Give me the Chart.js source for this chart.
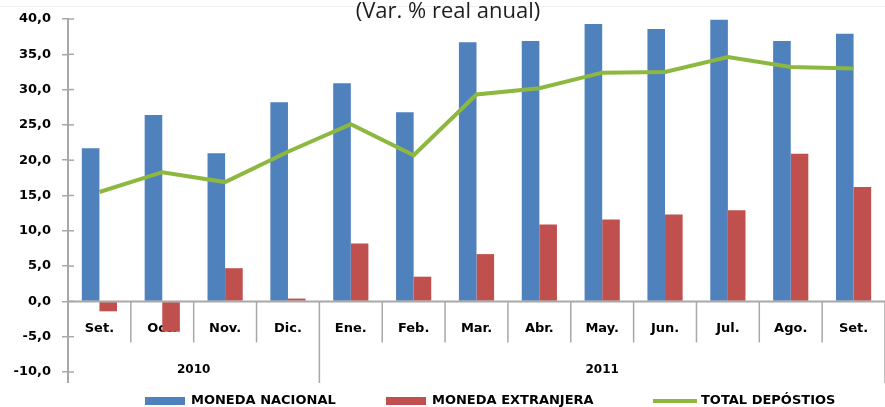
<!DOCTYPE html>
<html><head><meta charset="utf-8">
<script src="https://cdn.jsdelivr.net/npm/chart.js@4/dist/chart.umd.min.js"></script>
<style>html,body{margin:0;padding:0;background:#fff;overflow:hidden}#wrap{width:885px;height:407px;position:relative}</style>
</head><body><div id="wrap"><canvas id="c" width="885" height="407"></canvas></div>
<script>
const categories = ['Set.','Oct.','Nov.','Dic.','Ene.','Feb.','Mar.','Abr.','May.','Jun.','Jul.','Ago.','Set.'];
const yearLabels = ['2010','2011'];
const yearSpans = [4, 9];
const monedaNacional   = [21.7, 26.4, 21.0, 28.2, 30.9, 26.8, 36.7, 36.9, 39.3, 38.6, 39.9, 36.9, 37.9];
const monedaExtranjera = [-1.4, -4.3, 4.7, 0.4, 8.2, 3.5, 6.7, 10.9, 11.6, 12.3, 12.9, 20.9, 16.2];
const totalDepositos   = [15.5, 18.3, 16.9, 21.2, 25.1, 20.7, 29.3, 30.2, 32.4, 32.5, 34.6, 33.2, 33.0];
const seriesNames = ['MONEDA NACIONAL', 'MONEDA EXTRANJERA', 'TOTAL DEPÓSTIOS'];
const titleText = '(Var. % real anual)';
const yMin = -10, yMax = 40, yStep = 5;

const FONT = "'DejaVu Sans', sans-serif";
const AXIS = '#a8a8a8';
const BLUE = '#4F81BD', RED = '#C0504D', GREEN = '#8DB83F';

const overlay = {
  id: 'overlay',
  beforeDatasetsDraw(chart) {
    const {ctx, scales: {x, y}} = chart;
    const y0 = y.getPixelForValue(0);
    ctx.save();
    // faint top rule
    ctx.strokeStyle = '#eeeeee'; ctx.lineWidth = 1;
    ctx.beginPath(); ctx.moveTo(0, 6.5); ctx.lineTo(885, 6.5); ctx.stroke();
    // month labels (under the bars, as in the original)
    ctx.fillStyle = '#000';
    ctx.font = "bold 13px " + FONT;
    ctx.textAlign = 'center'; ctx.textBaseline = 'middle';
    categories.forEach((c, i) => ctx.fillText(c, x.getPixelForValue(i), y0 + 27));
    ctx.restore();
  },
  afterDraw(chart) {
    const {ctx, chartArea: a, scales: {x, y}} = chart;
    const y0 = y.getPixelForValue(0);
    const n = categories.length;
    const bound = i => i <= 0 ? a.left : (i >= n ? a.right : (x.getPixelForValue(i - 1) + x.getPixelForValue(i)) / 2);
    const axisBottom = a.bottom + 11;
    ctx.save();
    // title
    ctx.fillStyle = '#1e1e1e';
    ctx.font = "22px 'Open Sans', sans-serif";
    ctx.textAlign = 'center'; ctx.textBaseline = 'middle';
    ctx.fillText(titleText, 448, 12);
    // y axis extension + inner tick halves
    ctx.strokeStyle = AXIS; ctx.lineWidth = 2;
    ctx.beginPath(); ctx.moveTo(a.left, a.bottom); ctx.lineTo(a.left, axisBottom); ctx.stroke();
    ctx.lineWidth = 1.5;
    y.ticks.forEach(t => {
      const py = y.getPixelForValue(t.value);
      ctx.beginPath(); ctx.moveTo(a.left, py); ctx.lineTo(a.left + 6, py); ctx.stroke();
    });
    // category axis line at zero
    ctx.lineWidth = 2;
    ctx.beginPath(); ctx.moveTo(a.left, y0); ctx.lineTo(a.right, y0); ctx.stroke();
    // separators
    ctx.lineWidth = 1.5;
    const groupStarts = new Set();
    let acc = 0; yearSpans.forEach(s => { acc += s; groupStarts.add(acc); });
    for (let i = 1; i <= n; i++) {
      const bx = bound(i);
      ctx.beginPath(); ctx.moveTo(bx, y0); ctx.lineTo(bx, groupStarts.has(i) ? axisBottom : y0 + 41); ctx.stroke();
    }
    // year labels
    ctx.fillStyle = '#000';
    ctx.font = "bold 12px " + FONT;
    let start = 0;
    yearLabels.forEach((lbl, k) => {
      const end = start + yearSpans[k];
      ctx.fillText(lbl, (bound(start) + bound(end)) / 2, a.bottom - 2);
      start = end;
    });
    // legend
    ctx.font = "bold 13px " + FONT;
    ctx.textAlign = 'left';
    const ly = 401;
    const items = [
      {name: seriesNames[0], color: BLUE, kind: 'box', x: 145},
      {name: seriesNames[1], color: RED, kind: 'box', x: 386},
      {name: seriesNames[2], color: GREEN, kind: 'line', x: 653}
    ];
    items.forEach(it => {
      if (it.kind === 'box') {
        ctx.fillStyle = it.color; ctx.fillRect(it.x, ly - 4, 40, 8);
      } else {
        ctx.strokeStyle = it.color; ctx.lineWidth = 4;
        ctx.beginPath(); ctx.moveTo(it.x, ly); ctx.lineTo(it.x + 44, ly); ctx.stroke();
      }
      ctx.fillStyle = '#000';
      ctx.fillText(it.name, it.x + (it.kind === 'box' ? 46 : 48), ly);
    });
    ctx.restore();
  }
};

new Chart(document.getElementById('c'), {
  data: {
    labels: categories,
    datasets: [
      {type: 'line', label: seriesNames[2], data: totalDepositos, borderColor: GREEN, backgroundColor: GREEN,
       borderWidth: 4, pointRadius: 0, tension: 0, order: 0},
      {type: 'bar', label: seriesNames[0], data: monedaNacional, backgroundColor: BLUE, order: 1,
       barPercentage: 1, categoryPercentage: 0.56},
      {type: 'bar', label: seriesNames[1], data: monedaExtranjera, backgroundColor: RED, order: 1,
       barPercentage: 1, categoryPercentage: 0.56}
    ]
  },
  options: {
    responsive: false,
    animation: false,
    events: [],
    layout: {padding: {top: 19, bottom: 35, left: 0, right: -6}},
    plugins: {legend: {display: false}, title: {display: false}, tooltip: {enabled: false}},
    scales: {
      x: {type: 'category', display: false, offset: true},
      y: {
        min: yMin, max: yMax,
        afterFit: s => { s.width = 68; },
        ticks: {stepSize: yStep, padding: 11, color: '#000', font: {family: FONT, size: 13, weight: 'bold'},
                callback: v => v.toFixed(1).replace('.', ',')},
        grid: {display: true, drawOnChartArea: false, drawTicks: true, tickLength: 6, color: AXIS, lineWidth: 1.5},
        border: {display: true, color: AXIS, width: 2}
      }
    }
  },
  plugins: [overlay]
});
</script></body></html>
